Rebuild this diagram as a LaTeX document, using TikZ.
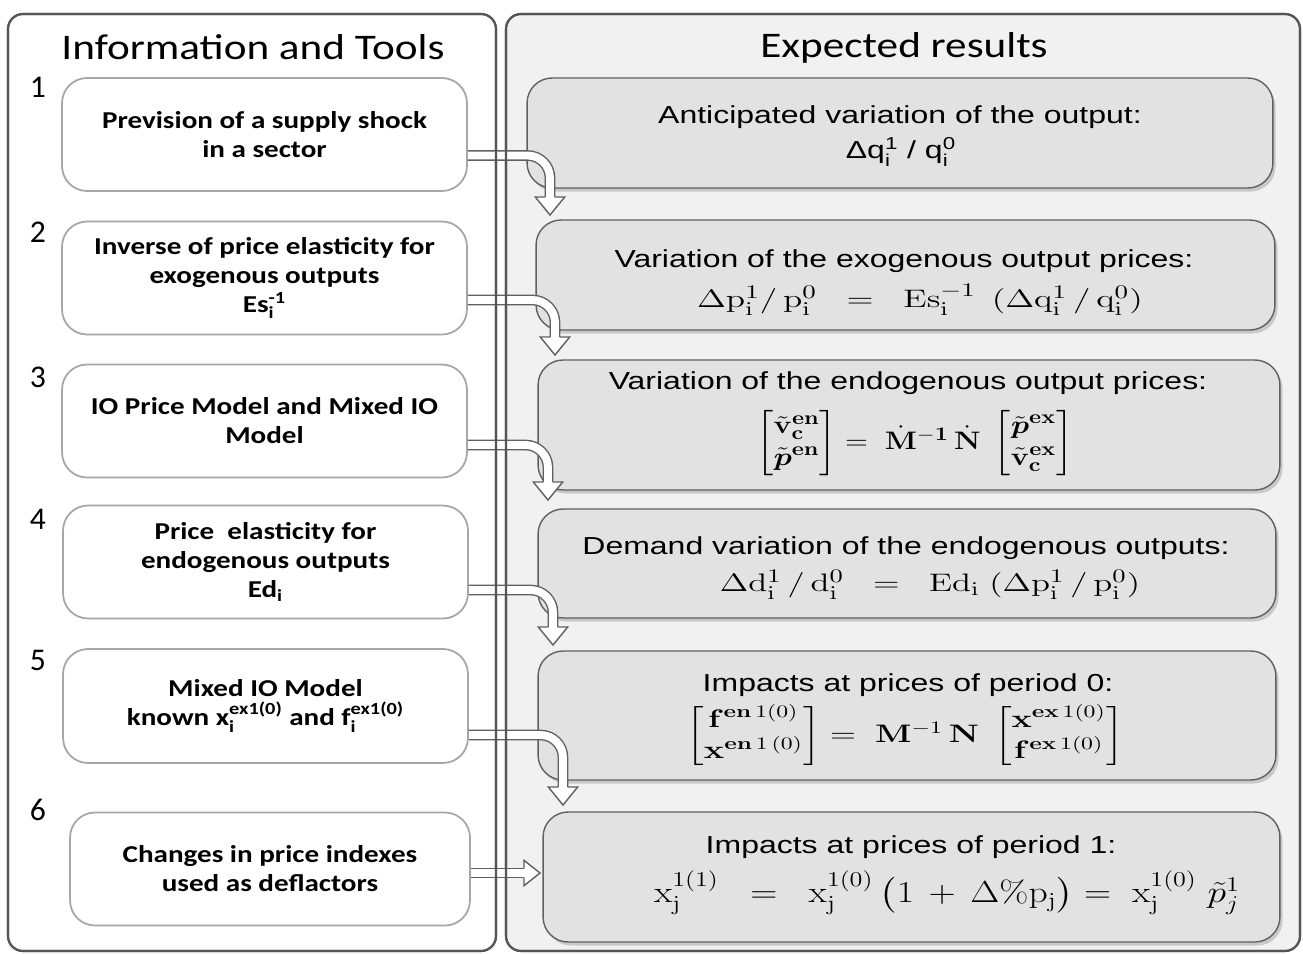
\documentclass[tikz,border=0pt]{standalone}
\usepackage{amsmath, amssymb, graphicx}
\usepackage[no-math]{fontspec}
\setmainfont{Carlito}
\newfontfamily\lfont[FakeStretch=1.2]{Carlito}
\newfontfamily\rfont[FakeStretch=1.3]{Liberation Sans}
\usetikzlibrary{calc,shadows,positioning}
\definecolor{PanelGray}{RGB}{241,241,241}
\definecolor{BoxGray}{RGB}{226,226,226}
\definecolor{EdgeGray}{RGB}{85,85,85}
\newcommand{\wide}[2]{\scalebox{#1}[1]{#2}}
\tikzstyle{panel} = [draw=EdgeGray, line width=1.2pt, rounded corners=0.3cm]
\tikzstyle{tool} = [draw=gray!70, line width=1pt, fill=white, rounded corners=0.5cm, minimum width=8.1cm, minimum height=2.26cm, align=center, font=\lfont\bfseries\fontsize{13.8}{16.5}\selectfont]
\tikzstyle{result} = [draw=gray!75!black, line width=0.8pt, fill=BoxGray, rounded corners=0.5cm, minimum width=14.8cm, minimum height=2.2cm, drop shadow={shadow xshift=1.5pt, shadow yshift=-2pt, opacity=0.35}]
\tikzstyle{rtitle} = [inner sep=0pt, font=\rfont\fontsize{14}{17}\selectfont]
\tikzstyle{formula} = [inner sep=0pt, font=\fontsize{15}{18}\selectfont]
\tikzstyle{pipe} = [draw=gray!75!black, line width=0.8pt, double=white, double distance=4.5pt, rounded corners=0.45cm]
\tikzstyle{num} = [font=\fontsize{18}{20}\selectfont]
\tikzstyle{head} = [font=\lfont\fontsize{20.5}{25}\selectfont]
\newcommand{\downhead}[1]{\filldraw[fill=white, draw=gray!75!black, line width=0.8pt] ($(#1)+(-4.7,-18)$) -- ++(-10,0) -- (#1) -- ($(#1)+(14.7,-18)$) -- ++(-10,0);}
\newcommand{\righthead}[1]{\filldraw[fill=white, draw=gray!75!black, line width=0.8pt] ($(#1)+(-16,-4.7)$) -- ++(0,-8) -- (#1) -- ($(#1)+(-16,12.7)$) -- ++(0,-8);}

\begin{document}
\begin{tikzpicture}[x=0.02cm, y=-0.02cm]
\useasboundingbox (0,0) rectangle (1303,954);
% the two panels
\path[panel, fill=white] (8,14) rectangle (496,951);
\path[panel, fill=PanelGray] (506,14) rectangle (1300,951);
\node[head] (tools) at (253,47) {Information and Tools};
\node[head] (results) at (904,48) {Expected results};
\node[num] (n1) at (38,87) {1};
\node[num] (n2) at (38,232) {2};
\node[num] (n3) at (38,377) {3};
\node[num] (n4) at (38,519) {4};
\node[num] (n5) at (38,660) {5};
\node[num] (n6) at (38,810) {6};
% left column
\node[tool] (l1) at (264.5,134.5) {Prevision of a supply shock\\in a sector};
\node[tool] (l2) at (264.5,278) {Inverse of price elasticity for\\exogenous outputs\\Es$_{\text{i}}^{\text{-1}}$};
\node[tool] (l3) at (264.5,421) {IO Price Model and Mixed IO\\Model};
\node[tool] (l4) at (265.5,562) {Price\ \ elasticity for\\endogenous outputs\\Ed$_{\text{i}}$};
\node[tool, minimum height=2.28cm] (l5) at (265.5,706) {Mixed IO Model\\known x$_{\text{i}}^{\text{ex1(0)}}$ and f$_{\text{i}}^{\text{ex1(0)}}$};
\node[tool, minimum width=8cm] (l6) at (270,869) {Changes in price indexes\\used as deflactors};
% right column
\node[result, minimum width=14.92cm] (r1) at (900,133) {};
\node[result, minimum width=14.78cm] (r2) at (905.5,275) {};
\node[result, minimum width=14.84cm, minimum height=2.6cm] (r3) at (909,425) {};
\node[result, minimum width=14.76cm, minimum height=2.18cm] (r4) at (907,563.5) {};
\node[result, minimum width=14.76cm, minimum height=2.58cm] (r5) at (907,715.5) {};
\node[result, minimum width=14.74cm, minimum height=2.6cm] (r6) at (911.5,877) {};
\node[rtitle] (r1a) at (900,117) {Anticipated variation of the output:};
\node[rtitle] (r1b) at (901,152) {Δq$_{\text{i}}^{\text{1}}$ / q$_{\text{i}}^{\text{0}}$};
\node[rtitle] (r2a) at (904,261) {Variation of the exogenous output prices:};
\node[formula] (r2b) at (920,300) {\wide{1.4}{$\Delta\mathrm{p}_\mathrm{i}^1/\,\mathrm{p}_\mathrm{i}^0 \;\;=\;\; \mathrm{Es}_\mathrm{i}^{-1}\;\,(\Delta\mathrm{q}_\mathrm{i}^1\,/\,\mathrm{q}_\mathrm{i}^0)$}};
\node[rtitle] (r3a) at (908,383) {Variation of the endogenous output prices:};
\node[formula, font=\fontsize{15.5}{18}\selectfont] (r3b) at (915,443) {\wide{1.19}{$\begin{bmatrix}\tilde{\mathbf{v}}_{\mathbf{c}}^{\mathbf{en}}\\ \tilde{\boldsymbol{p}}^{\mathbf{en}}\end{bmatrix} = \;\dot{\mathbf{M}}^{\mathbf{-1}}\,\dot{\mathbf{N}}\;\begin{bmatrix}\tilde{\boldsymbol{p}}^{\mathbf{ex}}\\ \tilde{\mathbf{v}}_{\mathbf{c}}^{\mathbf{ex}}\end{bmatrix}$}};
\node[rtitle] (r4a) at (906,548) {Demand variation of the endogenous outputs:};
\node[formula] (r4b) at (930,585) {\wide{1.38}{$\Delta\mathrm{d}_\mathrm{i}^1\,/\,\mathrm{d}_\mathrm{i}^0 \;\;=\;\; \mathrm{Ed}_\mathrm{i}\;(\Delta\mathrm{p}_\mathrm{i}^1\,/\,\mathrm{p}_\mathrm{i}^0)$}};
\node[rtitle] (r5a) at (908,685) {Impacts at prices of period 0:};
\node[formula, font=\fontsize{14}{17}\selectfont] (r5b) at (905,736) {\wide{1.35}{$\begin{bmatrix}\mathbf{f}^{\mathbf{en}\,1(0)}\\ \mathbf{x}^{\mathbf{en}\,1\,(0)}\end{bmatrix} = \;\mathbf{M}^{-1}\,\mathbf{N}\;\begin{bmatrix}\mathbf{x}^{\mathbf{ex}\,1(0)}\\ \mathbf{f}^{\mathbf{ex}\,1(0)}\end{bmatrix}$}};
\node[rtitle] (r6a) at (911,847) {Impacts at prices of period 1:};
\node[formula, font=\fontsize{17}{20}\selectfont] (r6b) at (947,893) {\wide{1.24}{$\mathrm{x}_\mathrm{j}^{1(1)} \;\;=\;\; \mathrm{x}_\mathrm{j}^{1(0)}\,\bigl(1 \,+\, \Delta\%\mathrm{p}_\mathrm{j}\bigr) = \;\mathrm{x}_\mathrm{j}^{1(0)}\;\tilde{p}_j^1$}};
% hollow arrows
\coordinate (t1) at (550,215);
\coordinate (t2) at (555,355);
\coordinate (t3) at (548,500);
\coordinate (t4) at (553,645);
\coordinate (t5) at (563,805);
\coordinate (t6) at (540,873);
\draw[pipe] ($(l1.east)+(0,21)$) -| ($(t1)+(0,-18)$);
\downhead{t1}
\draw[pipe] ($(l2.east)+(0,22)$) -| ($(t2)+(0,-18)$);
\downhead{t2}
\draw[pipe] ($(l3.east)+(0,24)$) -| ($(t3)+(0,-18)$);
\downhead{t3}
\draw[pipe] ($(l4.east)+(0,28)$) -| ($(t4)+(0,-18)$);
\downhead{t4}
\draw[pipe] ($(l5.east)+(0,29)$) -| ($(t5)+(0,-18)$);
\downhead{t5}
\draw[pipe] (l6.east |- t6) -- ($(t6)+(-16,0)$);
\righthead{t6}
% panel borders again, over the arrows
\path[panel] (8,14) rectangle (496,951);
\path[panel] (506,14) rectangle (1300,951);
\end{tikzpicture}
\end{document}
